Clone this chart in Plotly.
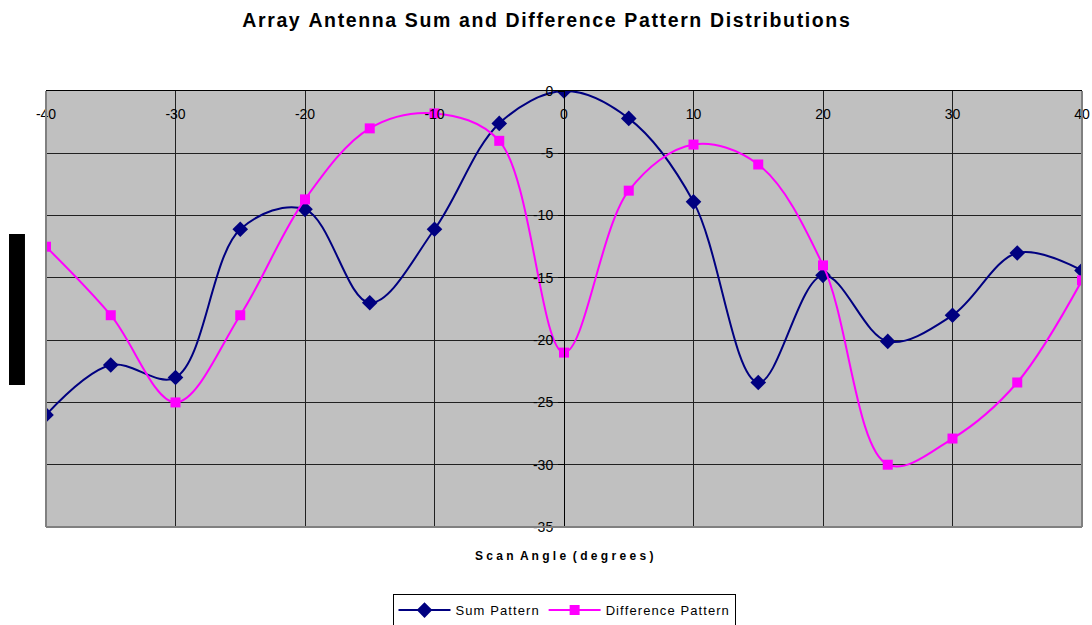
import plotly.graph_objects as go

# Scan angles (degrees) and pattern levels (dB)
angles = [-40, -35, -30, -25, -20, -15, -10, -5, 0, 5, 10, 15, 20, 25, 30, 35, 40]
sum_pattern = [-26.0, -22.0, -23.0, -11.1, -9.5, -17.0, -11.1, -2.6, 0.0,
               -2.2, -8.9, -23.4, -14.8, -20.1, -18.0, -13.0, -14.4]
diff_pattern = [-12.5, -18.0, -25.0, -18.0, -8.7, -3.0, -1.8, -4.0, -21.0,
                -8.0, -4.3, -5.9, -14.0, -30.0, -27.9, -23.4, -15.2]

x_ticks = [-40, -30, -20, -10, 0, 10, 20, 30, 40]
y_ticks = [0, -5, -10, -15, -20, -25, -30, -35]

FONT = "Liberation Sans, Arial, sans-serif"
HAIR = "\u200a"


def spaced(s, sep=HAIR):
    """Insert a narrow gap between characters for a letter-spaced look."""
    return sep.join(s)


fig = go.Figure()
fig.add_trace(go.Scatter(
    x=angles, y=sum_pattern, name=spaced("Sum Pattern"),
    mode="lines+markers",
    line=dict(color="#000080", width=2, shape="spline", smoothing=1.0),
    marker=dict(symbol="diamond", size=12, color="#000080"),
))
fig.add_trace(go.Scatter(
    x=angles, y=diff_pattern, name=spaced("Difference Pattern"),
    mode="lines+markers",
    line=dict(color="#FF00FF", width=2, shape="spline", smoothing=1.0),
    marker=dict(symbol="square", size=10, color="#FF00FF"),
))

tick_font = dict(family=FONT, size=14, color="black")

fig.update_layout(
    width=1092, height=625,
    margin=dict(l=46, r=10, t=91, b=98, autoexpand=False),
    paper_bgcolor="white",
    plot_bgcolor="#C0C0C0",
    font=dict(family=FONT, size=13, color="black"),
    title=dict(
        text="<b>" + spaced("Array Antenna Sum and Difference Pattern Distributions") + "</b>",
        x=0.5, xanchor="center", y=0.968, yanchor="middle",
        font=dict(family=FONT, size=19.5, color="black"),
    ),
    xaxis=dict(
        range=[-40, 40], tickvals=x_ticks, ticktext=[str(v) for v in x_ticks],
        side="top", ticklabelposition="inside", ticks="",
        ticklabeloverflow="allow", ticklabelstandoff=18,
        showline=True, linecolor="black", linewidth=1,
        showgrid=True, gridcolor="#202020", gridwidth=1,
        zeroline=False, tickfont=tick_font,
    ),
    yaxis=dict(
        range=[-35, 0], tickvals=y_ticks, ticktext=[str(v) for v in y_ticks],
        anchor="free", position=0.5,
        ticks="outside", ticklen=6, tickcolor="black", ticklabelstandoff=2,
        showline=True, linecolor="black", linewidth=1,
        showgrid=True, gridcolor="#202020", gridwidth=1,
        zeroline=False, tickfont=tick_font,
    ),
    showlegend=True,
    legend=dict(
        orientation="h", x=0.5, xanchor="center", y=-0.154, yanchor="top",
        bordercolor="black", borderwidth=1, bgcolor="white",
        font=dict(family=FONT, size=13), itemwidth=52,
        tracegroupgap=0,
    ),
)

# Plot area frame (gray sides and bottom)
fig.add_shape(type="line", xref="paper", yref="paper", x0=0, x1=1, y0=0, y1=0,
              line=dict(color="#808080", width=2))
fig.add_shape(type="line", xref="paper", yref="paper", x0=0, x1=0, y0=0, y1=1,
              line=dict(color="#808080", width=2))
fig.add_shape(type="line", xref="paper", yref="paper", x0=1, x1=1, y0=0, y1=1,
              line=dict(color="#808080", width=2))

# Axis title below the plot area
fig.add_annotation(
    text="<b>S c a n  A n g l e  ( d e g r e e s )</b>",
    xref="paper", yref="paper", x=0.5, y=-0.0665, xanchor="center", yanchor="middle",
    showarrow=False, font=dict(family=FONT, size=12, color="black"),
)

# Filled block at left margin
fig.add_shape(type="rect", xref="paper", yref="paper",
              x0=-0.0357, x1=-0.0203, y0=0.3257, y1=0.672,
              fillcolor="black", line=dict(width=0))

fig.write_html("out.html")
